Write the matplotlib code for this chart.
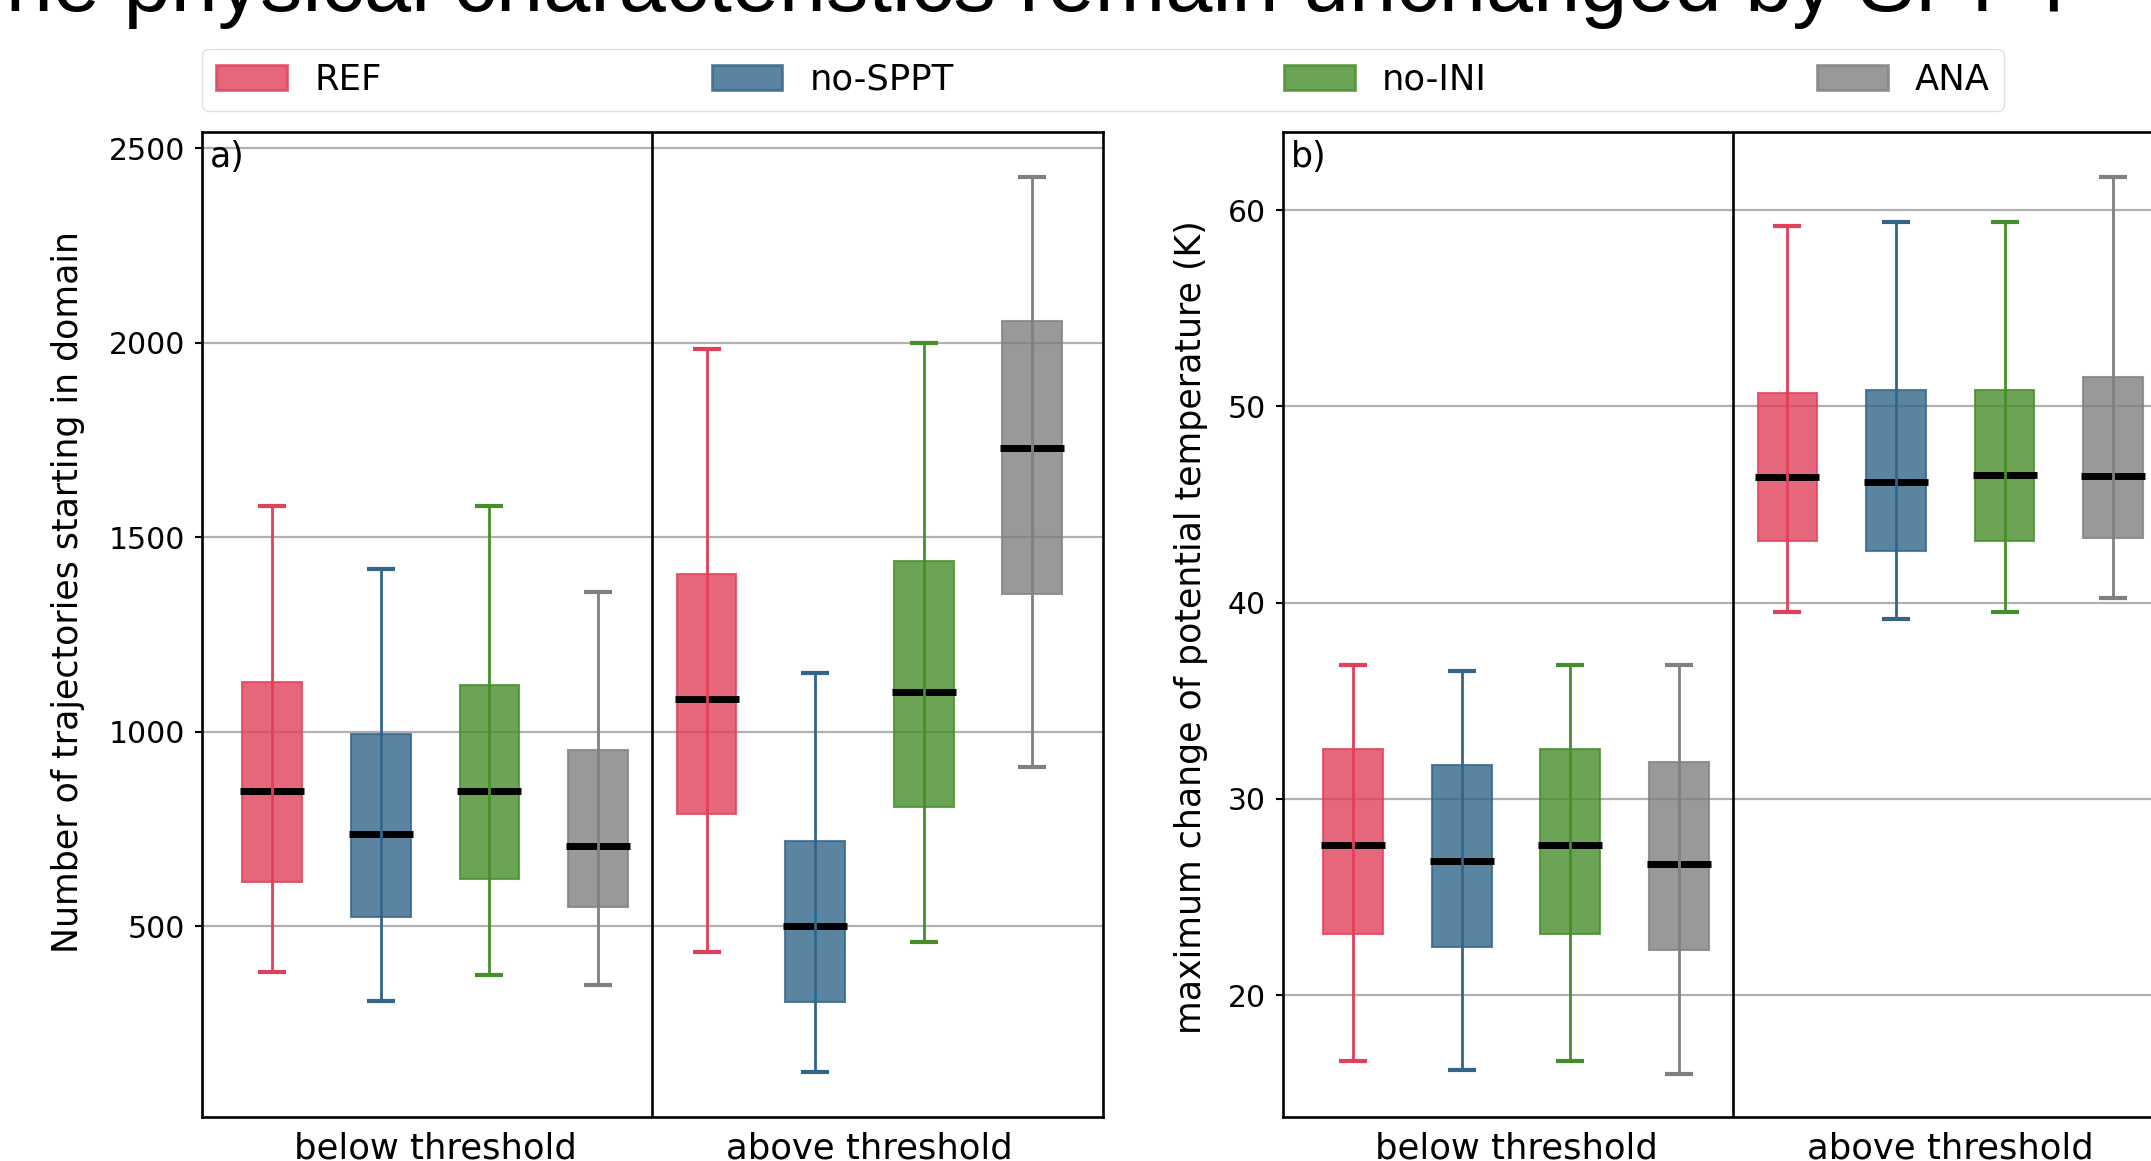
import matplotlib
matplotlib.use("Agg")
import matplotlib.pyplot as plt
from matplotlib.patches import Patch

# experiments and groups
experiments = ["REF", "no-SPPT", "no-INI", "ANA"]
groups = ["below threshold", "above threshold"]
colors = ["#E0405A", "#326588", "#468E2A", "#808080"]

# a) number of trajectories starting in domain, per group: [REF, no-SPPT, no-INI, ANA]
traj_lo = [[382, 308, 374, 349], [433, 125, 459, 909]]
traj_q1 = [[612, 523, 622, 548], [789, 305, 805, 1353]]
traj_med = [[846, 736, 846, 707], [1085, 499, 1103, 1730]]
traj_q3 = [[1127, 995, 1119, 953], [1405, 719, 1438, 2055]]
traj_hi = [[1579, 1418, 1579, 1359], [1983, 1151, 1999, 2426]]

# b) maximum change of potential temperature (K)
theta_lo = [[16.65, 16.18, 16.65, 15.98], [39.5, 39.17, 39.5, 40.23]]
theta_q1 = [[23.11, 22.43, 23.11, 22.28], [43.15, 42.62, 43.15, 43.3]]
theta_med = [[27.64, 26.81, 27.64, 26.68], [46.41, 46.17, 46.5, 46.47]]
theta_q3 = [[32.55, 31.72, 32.55, 31.87], [50.68, 50.83, 50.83, 51.5]]
theta_hi = [[36.84, 36.51, 36.84, 36.84], [59.22, 59.38, 59.38, 61.71]]

plt.rcParams["font.family"] = "DejaVu Sans"
plt.rcParams["axes.linewidth"] = 1.9

fig = plt.figure(figsize=(21.51, 11.61), dpi=100)
ax_a = fig.add_axes([0.0938, 0.0382, 0.4189, 0.8483])
ax_b = fig.add_axes([0.5963, 0.0382, 0.4189, 0.8483])

BOX_W = 0.55


def draw_panel(ax, lo, q1, med, q3, hi, ylim, ylabel, tag, label_y, labelpad):
    for g in range(len(groups)):
        for e, c in enumerate(experiments):
            x = 1 + g * len(experiments) + e
            col = colors[e]
            ax.bar(x, q3[g][e] - q1[g][e], bottom=q1[g][e], width=BOX_W,
                   color=col, edgecolor=col, linewidth=1.5, alpha=0.8, zorder=2)
            ax.hlines(med[g][e], x - BOX_W / 2 - 0.02, x + BOX_W / 2 + 0.02,
                      color="black", linewidth=5, zorder=3)
            ax.errorbar(x, med[g][e], yerr=[[med[g][e] - lo[g][e]], [hi[g][e] - med[g][e]]],
                        fmt="none", ecolor=col, elinewidth=2, capsize=10, capthick=3,
                        zorder=4)
    ax.axvline(4.5, color="black", linewidth=1.9, zorder=5)
    ax.set_xlim(0.35, 8.65)
    ax.set_ylim(*ylim)
    ax.set_xticks([2.5, 6.5])
    ax.set_xticklabels(groups, fontsize=25.5)
    ax.tick_params(axis="x", length=0, pad=11)
    ax.tick_params(axis="y", labelsize=21.5, length=5, width=1.5, pad=7)
    ax.yaxis.grid(True, color="#b0b0b0", linewidth=1.6)
    ax.set_axisbelow(True)
    ax.set_ylabel(ylabel, fontsize=25, labelpad=labelpad)
    ax.yaxis.label.set_y(label_y)
    ax.text(0.009, 0.992, tag, transform=ax.transAxes, ha="left", va="top", fontsize=25)


draw_panel(ax_a, traj_lo, traj_q1, traj_med, traj_q3, traj_hi, (10, 2542),
           "Number of trajectories starting in domain", "a)", 0.533, 17)
draw_panel(ax_b, theta_lo, theta_q1, theta_med, theta_q3, theta_hi, (13.8, 64.0),
           "maximum change of potential temperature (K)", "b)", 0.497, 14)

handles = [Patch(facecolor=c, edgecolor=c, alpha=0.8, linewidth=2) for c in colors]
leg = fig.legend(handles, experiments, loc="lower left", ncol=4, mode="expand",
                 bbox_to_anchor=(0.0938, 0.9043, 0.838, 0.0519), borderaxespad=0,
                 fontsize=25.5, handlelength=2.0, handletextpad=0.77, frameon=True)
leg.get_frame().set_edgecolor("0.85")

fig.text(2080 / 2151, 1 - 11 / 1161, "The physical characteristics remain unchanged by SPPT",
         ha="right", va="baseline", fontsize=61, family="Liberation Sans")

fig.savefig("out.png", dpi=100)
